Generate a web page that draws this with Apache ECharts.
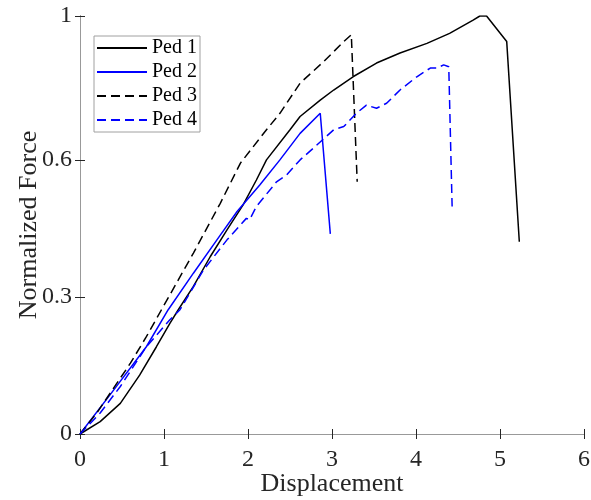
<!DOCTYPE html>
<html>
<head>
<meta charset="utf-8">
<script src="https://cdn.jsdelivr.net/npm/echarts@6/dist/echarts.min.js"></script>
<style>
  html, body { margin: 0; padding: 0; background: #fff; }
  #chart { width: 591px; height: 500px; }
</style>
</head>
<body>
<div id="chart"></div>
<script>
// displacement / normalized force
var ped1X = [0, 0.24, 0.48, 0.71, 0.91, 1.07, 1.17, 1.35, 1.55, 1.75, 1.94, 2.10, 2.22, 2.50, 2.62, 2.86, 3.02, 3.25, 3.53, 3.81, 4.13, 4.40, 4.68, 4.76, 4.84, 5.08, 5.23];
var ped1Y = [0, 0.027, 0.067, 0.129, 0.191, 0.242, 0.272, 0.323, 0.388, 0.447, 0.501, 0.556, 0.600, 0.666, 0.695, 0.731, 0.753, 0.782, 0.812, 0.834, 0.855, 0.877, 0.906, 0.915, 0.915, 0.859, 0.421];
var ped2X = [0, 0.40, 0.79, 1.05, 1.35, 1.63, 1.87, 2.14, 2.38, 2.62, 2.86, 2.98];
var ped2Y = [0, 0.096, 0.191, 0.272, 0.352, 0.425, 0.487, 0.545, 0.600, 0.658, 0.702, 0.438];
var ped3X = [0, 0.20, 0.60, 0.79, 0.97, 1.35, 1.67, 1.91, 2.22, 2.38, 2.62, 2.90, 3.14, 3.23, 3.30];
var ped3Y = [0, 0.046, 0.155, 0.213, 0.272, 0.396, 0.505, 0.593, 0.666, 0.702, 0.768, 0.815, 0.859, 0.874, 0.552];
var ped4X = [0, 0.24, 0.48, 0.79, 1.07, 1.19, 1.47, 1.75, 1.98, 2.02, 2.10, 2.34, 2.46, 2.62, 2.78, 3.02, 3.14, 3.29, 3.41, 3.53, 3.65, 3.81, 4.01, 4.17, 4.25, 4.33, 4.39, 4.43];
var ped4Y = [0, 0.046, 0.104, 0.191, 0.250, 0.272, 0.359, 0.425, 0.472, 0.469, 0.498, 0.552, 0.567, 0.600, 0.626, 0.666, 0.673, 0.702, 0.720, 0.713, 0.724, 0.753, 0.782, 0.801, 0.801, 0.808, 0.804, 0.498];

var seriesNames = ["Ped 1", "Ped 2", "Ped 3", "Ped 4"];
var yTicks = [0, 0.3, 0.6, 0.915];
var yTickLabels = ["0", "0.3", "0.6", "1"];

function pairs(xs, ys) {
  var out = [];
  for (var i = 0; i < xs.length; i++) out.push([xs[i], ys[i]]);
  return out;
}

var myChart = echarts.init(document.getElementById("chart"));
var font = "'Liberation Serif', 'Times New Roman', serif";
var dark = "#262626";

function line(name, xs, ys, color, dashed) {
  return {
    name: name,
    type: "line",
    showSymbol: false,
    symbol: "none",
    animation: false,
    lineStyle: { color: color, width: 1.5, type: dashed ? [9, 5] : "solid" },
    itemStyle: { color: color },
    data: pairs(xs, ys),
  };
}

var option = {
  backgroundColor: "#fff",
  grid: { left: 80, right: 7, top: 16, bottom: 66, containLabel: false, outerBoundsMode: "none" },
  legend: {
    orient: "vertical",
    left: 94,
    top: 36,
    data: seriesNames,
    itemWidth: 50,
    itemHeight: 10,
    itemGap: 4,
    padding: [2, 3, 2, 2],
    backgroundColor: "#fff",
    borderColor: "#a0a0a0",
    borderWidth: 1,
    itemStyle: { opacity: 0 },
    textStyle: { fontFamily: font, fontSize: 20, color: "#000" },
  },
  xAxis: [
    {
      type: "value",
      min: 0,
      max: 6,
      interval: 1,
      name: "Displacement",
      nameLocation: "middle",
      nameGap: 37,
      nameMoveOverlap: false,
      nameTextStyle: { fontFamily: font, fontSize: 26, color: dark },
      axisLine: { lineStyle: { color: dark, width: 1 } },
      axisTick: { inside: true, length: 5, lineStyle: { color: dark } },
      axisLabel: { fontFamily: font, fontSize: 24, color: dark, margin: 14 },
      splitLine: { show: false },
    },
    {
      type: "value",
      position: "top",
      min: 0,
      max: 6,
      interval: 1,
      axisLine: { lineStyle: { color: "#999", width: 1 } },
      axisTick: { inside: true, length: 5, lineStyle: { color: dark } },
      axisLabel: { show: false },
      splitLine: { show: false },
    },
  ],
  yAxis: [
    {
      type: "value",
      min: 0,
      max: 0.915,
      name: "Normalized Force",
      nameLocation: "middle",
      nameGap: 38,
      nameMoveOverlap: false,
      nameTextStyle: { fontFamily: font, fontSize: 26, color: dark },
      axisLine: { show: true, lineStyle: { color: dark, width: 1 } },
      axisTick: { show: true, inside: true, length: 5, customValues: yTicks, lineStyle: { color: dark } },
      axisLabel: {
        fontFamily: font,
        fontSize: 24,
        color: dark,
        margin: 8,
        padding: [4, 0, 0, 0],
        customValues: yTicks,
        formatter: function (v) {
          var i = yTicks.indexOf(v);
          return i >= 0 ? yTickLabels[i] : "";
        },
      },
      splitLine: { show: false },
    },
    {
      type: "value",
      position: "right",
      min: 0,
      max: 0.915,
      axisLine: { show: true, lineStyle: { color: "#999", width: 1 } },
      axisTick: { show: true, inside: true, length: 5, customValues: yTicks, lineStyle: { color: dark } },
      axisLabel: { show: false },
      splitLine: { show: false },
    },
  ],
  series: [
    line(seriesNames[0], ped1X, ped1Y, "#000000", false),
    line(seriesNames[1], ped2X, ped2Y, "#0000ff", false),
    line(seriesNames[2], ped3X, ped3Y, "#000000", true),
    line(seriesNames[3], ped4X, ped4Y, "#0000ff", true),
  ],
};

myChart.setOption(option);
</script>
</body>
</html>
